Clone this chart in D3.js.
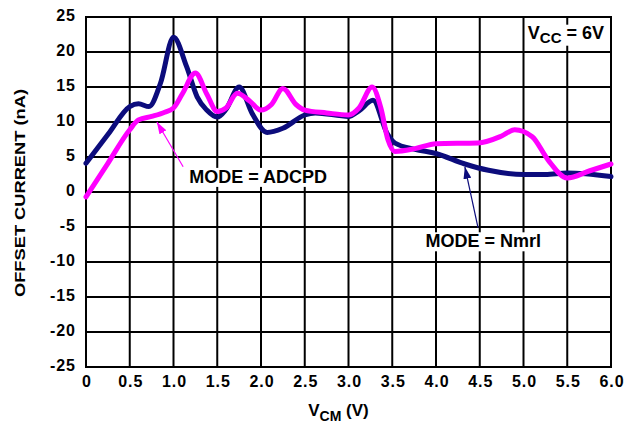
<html>
<head>
<style>
  body { margin: 0; background: #fff; }
  .grid line { stroke: #000; stroke-width: 2px; }
  .tick-label { font-family: "Liberation Sans", Arial, sans-serif; font-weight: bold; font-size: 16px; letter-spacing: 1px; fill: #000; }
  .title { font-family: "Liberation Sans", Arial, sans-serif; font-weight: bold; fill: #000; }
  .curve { fill: none; stroke-width: 5px; stroke-linejoin: round; stroke-linecap: round; }
</style>
</head>
<body>
<svg id="chart" width="635" height="428"></svg>
<script src="https://d3js.org/d3.v7.min.js"></script>
<script>
// tick values
const xTicks = [0, 0.5, 1.0, 1.5, 2.0, 2.5, 3.0, 3.5, 4.0, 4.5, 5.0, 5.5, 6.0]
const xTickLabels = ["0", "0.5", "1.0", "1.5", "2.0", "2.5", "3.0", "3.5", "4.0", "4.5", "5.0", "5.5", "6.0"]
const yTicks = [25, 20, 15, 10, 5, 0, -5, -10, -15, -20, -25]

// MODE = Nmrl (navy)
const nmrlX = [0, 0.25, 0.5, 0.6, 0.72, 0.85, 1.0, 1.15, 1.27, 1.38, 1.5, 1.6, 1.75, 1.9, 2.07, 2.25, 2.5, 2.62, 3.0, 3.12, 3.28, 3.44, 3.53, 3.76, 4.0, 4.33, 4.6, 5.0, 5.25, 5.5, 6.0]
const nmrlY = [4.1, 8.2, 12.2, 12.6, 12.2, 15.5, 22.1, 17.9, 13.6, 11.7, 10.7, 11.8, 15.0, 11.2, 8.5, 9.1, 11.0, 11.3, 10.8, 11.6, 13.1, 8.4, 7.0, 6.1, 5.5, 4.0, 3.1, 2.5, 2.5, 2.7, 2.2]

// MODE = ADCPD (magenta)
const adcpdX = [0, 0.25, 0.5, 0.6, 0.75, 0.9, 1.0, 1.1, 1.25, 1.38, 1.5, 1.6, 1.73, 1.87, 2.0, 2.12, 2.25, 2.4, 2.5, 2.75, 3.0, 3.12, 3.27, 3.37, 3.45, 3.53, 3.76, 4.0, 4.48, 4.75, 4.9, 5.1, 5.28, 5.5, 5.75, 6.0]
const adcpdY = [-0.7, 4.1, 8.9, 10.3, 10.8, 11.4, 12.0, 14.0, 17.0, 14.0, 11.5, 12.0, 14.1, 13.0, 11.7, 12.5, 14.8, 12.5, 11.7, 11.3, 11.0, 12.0, 15.0, 12.0, 7.5, 5.8, 6.2, 6.9, 7.0, 8.0, 8.9, 7.9, 4.6, 2.0, 3.0, 4.0]

const svg = d3.select("#chart")
const pLeft = 86, pRight = 611, pTop = 17, pBottom = 367

const xScale = d3.scaleLinear().domain([0, 6]).range([pLeft, pRight])
const yScale = d3.scaleLinear().domain([-25, 25]).range([pBottom, pTop])

// grid
const grid = svg.append("g").attr("class", "grid")
grid.selectAll("line.v").data(xTicks).enter().append("line")
    .attr("class", "v")
    .attr("x1", d => xScale(d)).attr("x2", d => xScale(d))
    .attr("y1", pTop).attr("y2", pBottom)
grid.selectAll("line.h").data(yTicks).enter().append("line")
    .attr("class", "h")
    .attr("x1", pLeft - 1).attr("x2", pRight + 1)
    .attr("y1", d => yScale(d)).attr("y2", d => yScale(d))

// tick labels
svg.selectAll("text.xt").data(xTicks).enter().append("text")
    .attr("class", "tick-label xt")
    .attr("x", d => xScale(d) + 1)
    .attr("y", pBottom + 20)
    .attr("text-anchor", "middle")
    .text((d, i) => xTickLabels[i])
svg.selectAll("text.yt").data(yTicks).enter().append("text")
    .attr("class", "tick-label yt")
    .attr("x", pLeft - 10)
    .attr("y", d => yScale(d) + 4)
    .attr("text-anchor", "end")
    .text(d => d)

// axis titles
svg.append("text")
    .attr("class", "title")
    .attr("transform", "translate(25," + ((pTop + pBottom) / 2 + 1) + ") rotate(-90)")
    .attr("text-anchor", "middle")
    .attr("font-size", "14px")
    .attr("textLength", 208)
    .attr("lengthAdjust", "spacingAndGlyphs")
    .text("OFFSET CURRENT (nA)")

const xt = svg.append("text")
    .attr("class", "title")
    .attr("x", (pLeft + pRight) / 2 - 10)
    .attr("y", 416)
    .attr("text-anchor", "middle")
    .attr("font-size", "17px")
xt.append("tspan").text("V")
xt.append("tspan").attr("font-size", "14px").attr("dy", 5).text("CM")
xt.append("tspan").attr("dy", -5).text(" (V)")

// curves
const line = d3.line()
    .x(d => xScale(d[0]))
    .y(d => yScale(d[1]))
    .curve(d3.curveMonotoneX)

svg.append("path")
    .datum(d3.zip(nmrlX, nmrlY))
    .attr("class", "curve")
    .attr("stroke", "#0c0c7c")
    .attr("d", line)

svg.append("path")
    .datum(d3.zip(adcpdX, adcpdY))
    .attr("class", "curve")
    .attr("stroke", "#ff00ff")
    .attr("d", line)

// arrow markers
const defs = svg.append("defs")
function marker(id, color) {
    defs.append("marker")
        .attr("id", id)
        .attr("viewBox", "0 0 12 8")
        .attr("refX", 12).attr("refY", 4)
        .attr("markerWidth", 12).attr("markerHeight", 8)
        .attr("markerUnits", "userSpaceOnUse")
        .attr("orient", "auto")
        .append("path")
        .attr("d", "M0,0 L12,4 L0,8 Z")
        .attr("fill", color)
}
marker("arrM", "#ff00ff")
marker("arrN", "#0c0c7c")

// label boxes
function label(text, x, y, anchor) {
    const t = svg.append("text")
        .attr("class", "title")
        .attr("font-size", "18px")
        .attr("x", xScale(x)).attr("y", yScale(y))
        .attr("text-anchor", anchor)
        .text(text)
    const b = t.node().getBBox()
    svg.insert("rect", function() { return t.node() })
        .attr("x", b.x - 2).attr("y", b.y + 1)
        .attr("width", b.width + 4).attr("height", b.height - 1)
        .attr("fill", "#fff")
    return t
}

// ADCPD annotation
svg.append("line")
    .attr("x1", xScale(1.11)).attr("y1", yScale(3.6))
    .attr("x2", xScale(0.81)).attr("y2", yScale(10.0))
    .attr("stroke", "#ff00ff").attr("stroke-width", 1.2)
    .attr("marker-end", "url(#arrM)")
label("MODE = ADCPD", 1.18, 1.3, "start")

// Nmrl annotation
svg.append("line")
    .attr("x1", xScale(4.48)).attr("y1", yScale(-5.1))
    .attr("x2", xScale(4.33)).attr("y2", yScale(3.6))
    .attr("stroke", "#0c0c7c").attr("stroke-width", 1.2)
    .attr("marker-end", "url(#arrN)")
label("MODE = Nmrl", 4.54, -7.9, "middle")

// VCC label
const vcc = svg.append("text")
    .attr("class", "title")
    .attr("font-size", "18px")
    .attr("x", xScale(5.92)).attr("y", yScale(21.9))
    .attr("text-anchor", "end")
vcc.append("tspan").text("V")
vcc.append("tspan").attr("font-size", "15px").attr("dy", 4).text("CC")
vcc.append("tspan").attr("dy", -4).text(" = 6V")
const vb = vcc.node().getBBox()
svg.insert("rect", function() { return vcc.node() })
    .attr("x", vb.x - 2).attr("y", vb.y + 2)
    .attr("width", vb.width + 4).attr("height", vb.height - 2)
    .attr("fill", "#fff")
</script>
</body>
</html>
